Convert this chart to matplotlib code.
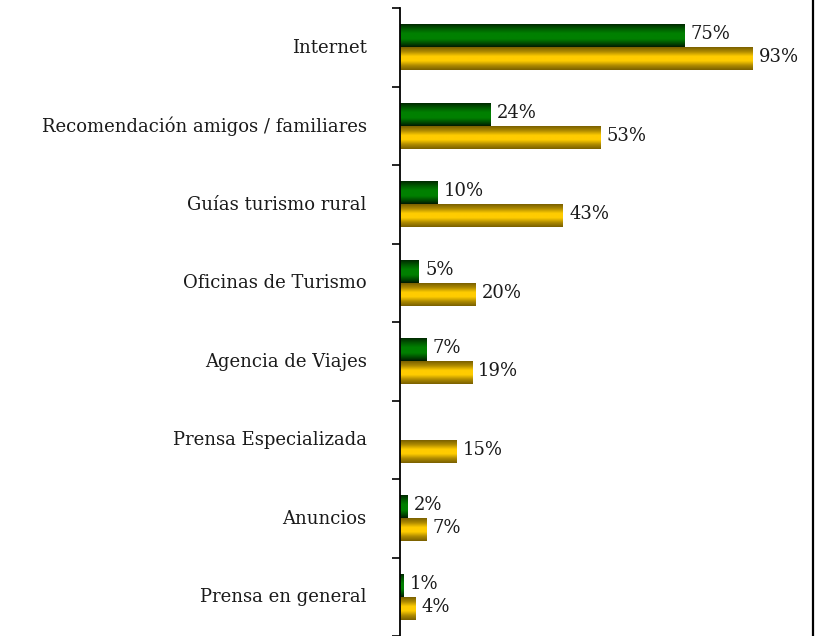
import numpy as np
import matplotlib
matplotlib.use("Agg")
import matplotlib.pyplot as plt
from matplotlib.colors import LinearSegmentedColormap
from matplotlib.lines import Line2D

categories = ["Internet", "Recomendación amigos / familiares", "Guías turismo rural",
              "Oficinas de Turismo", "Agencia de Viajes", "Prensa Especializada",
              "Anuncios", "Prensa en general"]
serie_verde = [75, 24, 10, 5, 7, None, 2, 1]
serie_oro = [93, 53, 43, 20, 19, 15, 7, 4]

plt.rcParams['font.family'] = ['DejaVu Serif']

fig = plt.figure(figsize=(8.19, 6.36), dpi=100)
ax = fig.add_axes([400/819, 0.0, (813-400)/819, 628/636])

n = len(categories)
y = np.arange(n)
h = 0.29
xmax = (813-400)/3.79

green_cmap = LinearSegmentedColormap.from_list("g", [
    (0.0, "#002a00"), (0.2, "#005a00"), (0.4, "#008000"), (0.65, "#008000"),
    (0.85, "#004a00"), (1.0, "#001a00")])
gold_cmap = LinearSegmentedColormap.from_list("o", [
    (0.0, "#7a6000"), (0.2, "#b08c00"), (0.4, "#ffcc00"), (0.6, "#ffcc00"),
    (0.8, "#b08c00"), (1.0, "#7a6000")])

grad = np.linspace(0, 1, 64).reshape(-1, 1)

def draw(values, offset, cmap):
    vals = [0 if v is None else v for v in values]
    bars = ax.barh(y + offset, vals, height=h, color="none", edgecolor="none")
    for bar, v in zip(bars, values):
        if v is None:
            continue
        x0, y0 = bar.get_x(), bar.get_y()
        w, hh = bar.get_width(), bar.get_height()
        im = ax.imshow(grad, cmap=cmap, aspect="auto",
                       extent=(x0, x0 + w, y0 + hh, y0), origin="upper",
                       interpolation="bilinear", zorder=2)
        im.set_clip_path(bar)
        ax.text(x0 + w + 1.6, y0 + hh/2 - 0.02, f"{v}%", va="center", ha="left",
                fontsize=13, color="#1a1a1a")

draw(serie_verde, -h/2, green_cmap)
draw(serie_oro, h/2, gold_cmap)

ax.set_xlim(0, xmax)
ax.set_ylim(n - 0.5, -0.5)
ax.set_yticks(y - 0.02)
ax.set_yticklabels(categories, fontsize=13, color="#1a1a1a")
ax.tick_params(axis="y", which="major", length=0, pad=24)
ax.set_yticks(np.arange(-0.5, n, 1), minor=True)
ax.tick_params(axis="y", which="minor", length=6, width=1.2, direction="out")
ax.set_xticks([])
for s in ["top", "right", "bottom"]:
    ax.spines[s].set_visible(False)
ax.spines["left"].set_linewidth(1.3)

fig.add_artist(Line2D([813/819, 813/819], [0, 1], transform=fig.transFigure,
                      color="black", linewidth=1.6))

fig.savefig("out.png", dpi=100)
